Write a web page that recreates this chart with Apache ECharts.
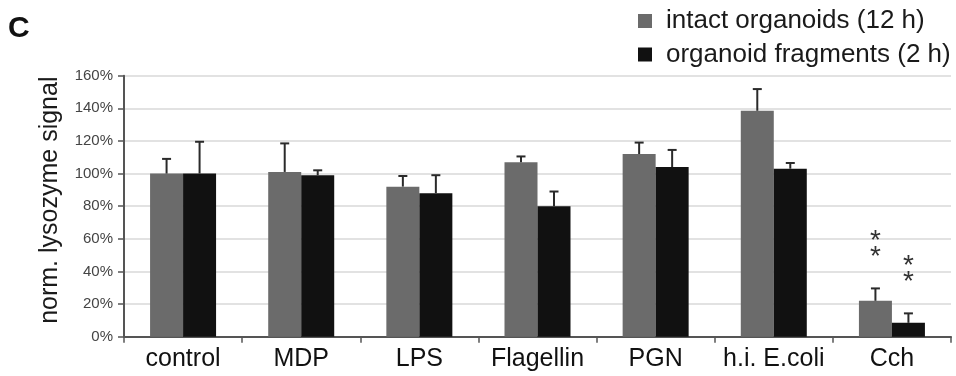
<!DOCTYPE html>
<html>
<head>
<meta charset="utf-8">
<script src="https://cdn.jsdelivr.net/npm/echarts@6/dist/echarts.min.js"></script>
<style>
  html, body { margin: 0; padding: 0; background: #fff; }
  #chart { width: 956px; height: 376px; }
</style>
</head>
<body>
<div id="chart"></div>
<script>
// ---- data ----
const categories = ['control', 'MDP', 'LPS', 'Flagellin', 'PGN', 'h.i. E.coli', 'Cch'];
const seriesNames = ['intact organoids (12 h)', 'organoid fragments (2 h)'];
const intact = [100, 101, 92, 107, 112, 138.5, 22];
const intactErr = [9, 17.5, 6.5, 3.5, 7, 13.3, 7.6];
const fragments = [100, 99, 88, 80, 104, 103, 8.5];
const fragmentsErr = [19.5, 3, 11, 9, 10.5, 3.5, 5.8];
const intactSig = ['', '', '', '', '', '', '**'];
const fragmentsSig = ['', '', '', '', '', '', '**'];
const yTicks = [0, 20, 40, 60, 80, 100, 120, 140, 160];

// ---- style ----
const FONT = '"Liberation Sans", Arial, Helvetica, sans-serif';
const GRAY = '#6b6b6b';
const BLACK = '#111111';
const BAR_W = 33;

function errSeries(name, values, errs, sigs, offsetSign) {
  const data = values.map((v, i) => [i, v, v + errs[i], sigs[i]]);
  return {
    type: 'custom',
    name: name + ' err',
    z: 10,
    silent: true,
    data: data,
    encode: { x: 0, y: [1, 2] },
    renderItem: function (params, api) {
      const idx = api.value(0);
      const base = api.coord([idx, api.value(1)]);
      const top = api.coord([idx, api.value(2)]);
      const x = base[0] + offsetSign * BAR_W / 2;
      const cap = 4.5;
      const children = [
        { type: 'line', shape: { x1: x, y1: base[1], x2: x, y2: top[1] },
          style: { stroke: '#2a2a2a', lineWidth: 2 } },
        { type: 'line', shape: { x1: x - cap, y1: top[1], x2: x + cap, y2: top[1] },
          style: { stroke: '#2a2a2a', lineWidth: 2 } }
      ];
      const sig = data[params.dataIndex][3];
      if (sig) {
        const stars = sig.split('');
        stars.forEach((s, k) => {
          children.push({
            type: 'text',
            style: {
              text: s, x: x, y: top[1] - 31 - (stars.length - 1 - k) * 16,
              align: 'center', verticalAlign: 'middle',
              font: '28px ' + FONT, fill: '#333'
            }
          });
        });
      }
      return { type: 'group', children: children };
    }
  };
}

const chart = echarts.init(document.getElementById('chart'), null, { renderer: 'canvas' });
chart.setOption({
  animation: false,
  backgroundColor: '#ffffff',
  textStyle: { fontFamily: FONT },
  grid: { left: 124, right: 5, top: 75.7, bottom: 39.3, containLabel: false },
  title: {
    text: 'C', left: 3, top: 9,
    textStyle: { fontFamily: FONT, fontWeight: 'bold', fontSize: 30, color: '#111' }
  },
  legend: {
    orient: 'vertical', left: 633, top: 3,
    itemWidth: 14, itemHeight: 14, itemGap: 7.5,
    icon: 'rect',
    data: seriesNames,
    textStyle: { fontFamily: FONT, fontSize: 26, lineHeight: 26, color: '#1a1a1a', padding: [0, 0, 0, 9] }
  },
  xAxis: {
    type: 'category',
    data: categories,
    boundaryGap: true,
    axisLine: { lineStyle: { color: '#555', width: 2 } },
    axisTick: { show: true, alignWithLabel: false, length: 6, lineStyle: { color: '#555', width: 1.5 } },
    axisLabel: { fontFamily: FONT, fontSize: 25, color: '#111', margin: 10, interval: 0 },
    splitLine: { show: false }
  },
  yAxis: {
    type: 'value',
    min: 0, max: 160, interval: 20,
    name: 'norm. lysozyme signal',
    nameLocation: 'middle',
    nameGap: 61,
    nameTextStyle: { fontFamily: FONT, fontSize: 25, color: '#1a1a1a', padding: [0, 0, 0, 12] },
    axisLine: { show: true, lineStyle: { color: '#555', width: 2 } },
    axisTick: { show: true, inside: false, length: 6, lineStyle: { color: '#555', width: 1.5 } },
    axisLabel: {
      fontFamily: FONT, fontSize: 15, color: '#444', margin: 11, padding: [6, 0, 0, 0],
      formatter: function (v) { return yTicks.indexOf(v) >= 0 ? v + '%' : ''; }
    },
    splitLine: { show: true, lineStyle: { color: '#d9d9d9', width: 1.5 } }
  },
  series: [
    { name: seriesNames[0], type: 'bar', data: intact, barWidth: BAR_W, barGap: '0%',
      itemStyle: { color: GRAY } },
    { name: seriesNames[1], type: 'bar', data: fragments, barWidth: BAR_W, barGap: '0%',
      itemStyle: { color: BLACK } },
    errSeries(seriesNames[0], intact, intactErr, intactSig, -1),
    errSeries(seriesNames[1], fragments, fragmentsErr, fragmentsSig, 1)
  ]
});
</script>
</body>
</html>
